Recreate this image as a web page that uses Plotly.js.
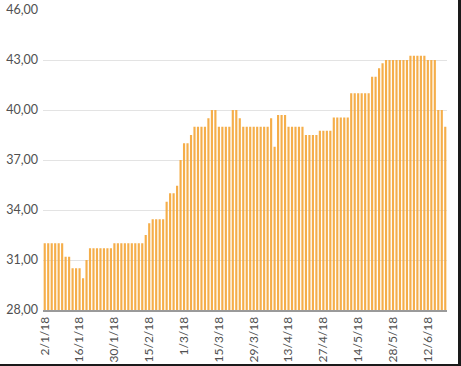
<!DOCTYPE html>
<html>
<head>
<meta charset="utf-8">
<script src="https://cdn.plot.ly/plotly-3.0.1.min.js"></script>
<style>
html,body{margin:0;padding:0;background:#fff;}
#frame{width:458px;height:364px;border-right:3px solid #1a1a1a;border-bottom:2px solid #1a1a1a;position:relative;overflow:hidden;}
#chart{width:458px;height:364px;}
</style>
</head>
<body>
<div id="frame"><div id="chart"></div></div>
<script>
var dates = [
"2/1/18","3/1/18","4/1/18","5/1/18","8/1/18","9/1/18","10/1/18","11/1/18","12/1/18","15/1/18",
"16/1/18","17/1/18","18/1/18","19/1/18","22/1/18","23/1/18","24/1/18","25/1/18","26/1/18","29/1/18",
"30/1/18","31/1/18","1/2/18","2/2/18","5/2/18","6/2/18","7/2/18","8/2/18","9/2/18","14/2/18",
"15/2/18","16/2/18","19/2/18","20/2/18","21/2/18","22/2/18","23/2/18","26/2/18","27/2/18","28/2/18",
"1/3/18","2/3/18","5/3/18","6/3/18","7/3/18","8/3/18","9/3/18","12/3/18","13/3/18","14/3/18",
"15/3/18","16/3/18","19/3/18","20/3/18","21/3/18","22/3/18","23/3/18","26/3/18","27/3/18","28/3/18",
"29/3/18","2/4/18","3/4/18","4/4/18","5/4/18","6/4/18","9/4/18","10/4/18","11/4/18","12/4/18",
"13/4/18","16/4/18","17/4/18","18/4/18","19/4/18","20/4/18","23/4/18","24/4/18","25/4/18","26/4/18",
"27/4/18","30/4/18","2/5/18","3/5/18","4/5/18","7/5/18","8/5/18","9/5/18","10/5/18","11/5/18",
"14/5/18","15/5/18","16/5/18","17/5/18","18/5/18","21/5/18","22/5/18","23/5/18","24/5/18","25/5/18",
"28/5/18","29/5/18","30/5/18","1/6/18","4/6/18","5/6/18","6/6/18","7/6/18","8/6/18","11/6/18",
"12/6/18","13/6/18","14/6/18","15/6/18","18/6/18","19/6/18"
];
var prices = [
32.0,32.0,32.0,32.0,32.0,32.0,31.2,31.2,30.5,30.5,
30.5,29.9,31.0,31.7,31.7,31.7,31.7,31.7,31.7,31.7,
32.0,32.0,32.0,32.0,32.0,32.0,32.0,32.0,32.0,32.5,
33.2,33.45,33.45,33.45,33.45,34.5,35.0,35.0,35.45,37.0,
38.0,38.0,38.5,39.0,39.0,39.0,39.0,39.5,40.0,40.0,
39.0,39.0,39.0,39.0,40.0,40.0,39.5,39.0,39.0,39.0,
39.0,39.0,39.0,39.0,39.0,39.5,37.8,39.7,39.7,39.7,
39.0,39.0,39.0,39.0,39.0,38.5,38.5,38.5,38.5,38.75,
38.75,38.75,38.75,39.55,39.55,39.55,39.55,39.55,41.0,41.0,
41.0,41.0,41.0,41.0,42.0,42.0,42.5,42.8,43.0,43.0,
43.0,43.0,43.0,43.0,43.0,43.25,43.25,43.25,43.25,43.25,
43.0,43.0,43.0,40.0,40.0,39.0
];
var tickLabels = ["2/1/18","16/1/18","30/1/18","15/2/18","1/3/18","15/3/18","29/3/18","13/4/18","27/4/18","14/5/18","28/5/18","12/6/18"];
var yTicks = [28,31,34,37,40,43,46];

var trace = {
  type: 'bar',
  x: dates,
  y: prices,
  marker: {color: '#F5AE4A', line: {width: 0}},
  hoverinfo: 'x+y'
};
var layout = {
  width: 458, height: 364,
  margin: {l: 43, r: 11, t: 10, b: 54},
  paper_bgcolor: '#ffffff',
  plot_bgcolor: '#ffffff',
  separators: ',.',
  bargap: 0.38,
  showlegend: false,
  font: {family: 'Lato, "Open Sans", sans-serif', size: 12, color: '#505050'},
  xaxis: {
    type: 'category',
    tickmode: 'array',
    tickvals: tickLabels,
    ticktext: tickLabels,
    tickangle: -90,
    ticks: '',
    showgrid: false,
    showline: true,
    linecolor: '#9a9a9a',
    linewidth: 2,
    tickfont: {size: 12, color: '#505050'},
    fixedrange: true
  },
  yaxis: {
    range: [28, 46],
    tickmode: 'array',
    tickvals: yTicks,
    tickformat: '.2f',
    showgrid: true,
    gridcolor: '#e3e3e3',
    gridwidth: 1,
    zeroline: false,
    showline: false,
    ticks: '',
    ticklabelstandoff: 4,
    tickfont: {size: 12.5, color: '#505050'},
    fixedrange: true
  }
};
Plotly.newPlot('chart', [trace], layout, {displayModeBar: false, staticPlot: true});
</script>
</body>
</html>
